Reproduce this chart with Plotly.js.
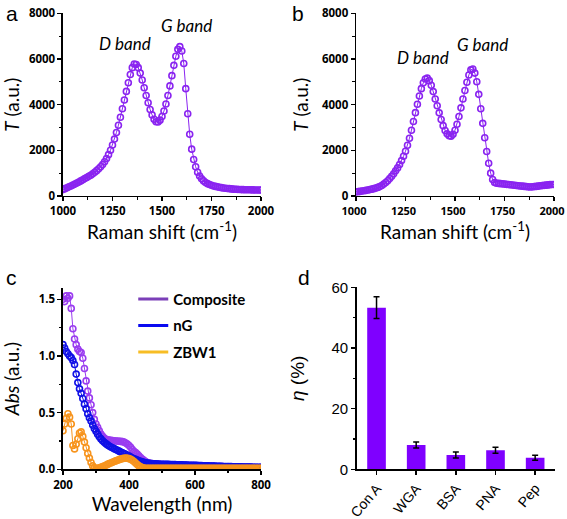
<!DOCTYPE html>
<html><head><meta charset="utf-8">
<script src="https://cdn.plot.ly/plotly-3.0.1.min.js"></script>
<style>html,body{margin:0;padding:0;background:#fff;overflow:hidden}#chart{width:567px;height:519px}</style>
</head><body><div id="chart"></div>
<script>
// ---- Panel a / b: Raman spectra ----
const ramanShift = [
1000,1010,1020,1030,1040,1050,1060,1070,1080,1090,
1100,1110,1120,1130,1140,1150,1160,1170,1180,1190,
1200,1210,1220,1230,1240,1250,1260,1270,1280,1290,
1300,1310,1320,1330,1340,1350,1360,1370,1380,1390,
1400,1410,1420,1430,1440,1450,1460,1470,1480,1490,
1500,1510,1520,1530,1540,1550,1560,1570,1580,1590,
1600,1610,1620,1630,1640,1650,1660,1670,1680,1690,
1700,1710,1720,1730,1740,1750,1760,1770,1780,1790,
1800,1810,1820,1830,1840,1850,1860,1870,1880,1890,
1900,1910,1920,1930,1940,1950,1960,1970,1980,1990,
2000];
const ramanA = [
280,320,360,400,440,480,520,570,610,660,
710,760,810,860,910,970,1040,1110,1190,1280,
1380,1500,1640,1810,2000,2230,2490,2780,3100,3450,
3820,4200,4580,4960,5320,5620,5780,5760,5620,5380,
5080,4740,4400,4080,3790,3550,3360,3250,3240,3320,
3480,3720,4030,4400,4820,5270,5720,6120,6420,6540,
6350,5800,4700,3600,2700,2050,1600,1280,1040,870,
750,660,590,540,500,470,440,420,400,380,
365,350,340,330,320,310,300,295,290,285,
280,278,275,272,270,268,266,265,264,263,
262];
const ramanB = [
180,190,200,215,230,245,260,280,300,320,
345,375,410,460,520,590,670,760,860,970,
1100,1230,1380,1550,1740,1960,2220,2530,2880,3260,
3650,4020,4380,4700,4960,5120,5160,5050,4850,4570,
4250,3950,3640,3350,3080,2870,2720,2640,2620,2700,
2880,3140,3480,3860,4250,4620,4980,5300,5520,5560,
5380,5000,4450,3820,3180,2550,1950,1430,1000,720,
590,560,550,540,530,520,510,500,490,480,
470,460,450,440,430,420,410,400,395,400,
410,420,430,445,455,465,475,485,495,500,
505];
const ramanTicks = [1000,1250,1500,1750,2000];

// ---- Panel c: absorption spectra ----
const wavelength = [
200,205,210,215,220,225,230,235,240,245,
250,255,260,265,270,275,280,285,290,295,
300,305,310,315,320,325,330,335,340,345,
350,355,360,365,370,375,380,385,390,395,
400,405,410,415,420,425,430,435,440,445,
450,455,460,465,470,475,480,485,490,495,
500,505,510,515,520,525,530,535,540,545,
550,555,560,565,570,575,580,585,590,595,
600,605,610,615,620,625,630,635,640,645,
650,655,660,665,670,675,680,685,690,695,
700,705,710,715,720,725,730,735,740,745,
750,755,760,765,770,775,780,785,790,795,
800];
const absComposite = [
1.50,1.48,1.53,1.51,1.53,1.42,1.24,1.15,1.10,1.06,
1.04,1.03,0.98,0.89,0.78,0.69,0.63,0.57,0.50,0.44,
0.40,0.37,0.34,0.31,0.29,0.275,0.265,0.26,0.258,0.256,
0.254,0.252,0.25,0.249,0.248,0.246,0.244,0.24,0.232,0.222,
0.21,0.195,0.175,0.158,0.147,0.135,0.118,0.103,0.09,0.079,
0.068,0.06,0.055,0.052,0.049,0.047,0.045,0.044,0.043,0.042,
0.041,0.041,0.040,0.040,0.039,0.039,0.038,0.038,0.037,0.037,
0.036,0.036,0.035,0.035,0.034,0.034,0.033,0.033,0.032,0.032,
0.031,0.031,0.030,0.030,0.029,0.029,0.028,0.028,0.027,0.027,
0.026,0.026,0.025,0.025,0.024,0.024,0.023,0.023,0.022,0.022,
0.021,0.021,0.021,0.020,0.020,0.020,0.019,0.019,0.019,0.018,
0.018,0.018,0.017,0.017,0.017,0.016,0.016,0.016,0.016,0.015,
0.015];
const absNG = [
1.10,1.07,1.04,1.02,1.00,0.985,0.96,0.925,0.84,0.765,
0.71,0.67,0.625,0.575,0.535,0.49,0.455,0.425,0.39,0.36,
0.335,0.31,0.287,0.268,0.252,0.238,0.226,0.215,0.205,0.197,
0.19,0.182,0.175,0.167,0.16,0.153,0.146,0.139,0.132,0.124,
0.116,0.108,0.1,0.093,0.087,0.081,0.075,0.07,0.065,0.061,
0.058,0.055,0.053,0.051,0.05,0.049,0.048,0.047,0.046,0.045,
0.045,0.044,0.044,0.043,0.043,0.042,0.042,0.041,0.041,0.040,
0.040,0.039,0.039,0.038,0.037,0.037,0.036,0.036,0.035,0.035,
0.034,0.034,0.033,0.033,0.032,0.031,0.031,0.030,0.030,0.029,
0.029,0.028,0.028,0.027,0.027,0.026,0.026,0.025,0.025,0.024,
0.024,0.023,0.023,0.022,0.022,0.022,0.021,0.021,0.021,0.020,
0.020,0.020,0.019,0.019,0.019,0.018,0.018,0.018,0.018,0.017,
0.017];
const absZBW1 = [
0.34,0.40,0.45,0.49,0.46,0.40,0.21,0.18,0.22,0.27,
0.32,0.33,0.29,0.24,0.19,0.14,0.10,0.06,0.03,0.012,
0.006,0.008,0.012,0.017,0.023,0.029,0.036,0.043,0.05,0.056,
0.062,0.068,0.074,0.08,0.085,0.09,0.094,0.097,0.098,0.097,
0.094,0.088,0.079,0.068,0.055,0.042,0.03,0.021,0.015,0.011,
0.009,0.008,0.008,0.008,0.008,0.008,0.008,0.008,0.008,0.008,
0.008,0.008,0.008,0.008,0.008,0.008,0.008,0.008,0.008,0.008,
0.008,0.008,0.008,0.008,0.008,0.008,0.008,0.008,0.008,0.008,
0.008,0.008,0.008,0.008,0.008,0.008,0.008,0.008,0.008,0.008,
0.008,0.008,0.008,0.008,0.008,0.008,0.008,0.008,0.008,0.008,
0.008,0.008,0.008,0.008,0.008,0.008,0.008,0.008,0.008,0.008,
0.008,0.008,0.008,0.008,0.008,0.008,0.008,0.008,0.008,0.008,
0.008];
const seriesNames = ["Composite","nG","ZBW1"];

// ---- Panel d: bar chart ----
const proteins = ["Con A","WGA","BSA","PNA","Pep"];
const eta = [53.3, 8.0, 4.7, 6.3, 3.8];
const etaErr = [3.6, 1.0, 1.0, 1.0, 0.8];

const purple = '#8a24f0';
const cPurple = '#9a3cf0', cBlue = '#1010e6', cOrange = '#f7941d';
const tickF = {family:'"Open Sans", sans-serif', size:11.5, color:'#000', weight:'bold'};
const tickF2 = {family:'"Open Sans", sans-serif', size:11, color:'#000', weight:'bold'};
const titleF = {family:'Lato, sans-serif', size:19, color:'#000'};
const arialF = 'Liberation Sans, Arial, sans-serif';
const bandF = {family:'Lato, sans-serif', size:17, color:'#000'};

function marker(c){return {symbol:'circle-open', size:6, color:c, line:{width:1.6, color:c}};}

const traces = [
 {x:ramanShift, y:ramanA, xaxis:'x', yaxis:'y', mode:'lines+markers', line:{color:purple,width:1}, marker:marker(purple), showlegend:false},
 {x:ramanShift, y:ramanB, xaxis:'x2', yaxis:'y2', mode:'lines+markers', line:{color:purple,width:1}, marker:marker(purple), showlegend:false},
 {x:wavelength, y:absComposite, xaxis:'x3', yaxis:'y3', mode:'lines+markers', line:{color:cPurple,width:1}, marker:marker(cPurple), showlegend:false},
 {x:wavelength, y:absNG, xaxis:'x3', yaxis:'y3', mode:'lines+markers', line:{color:cBlue,width:1}, marker:marker(cBlue), showlegend:false},
 {x:wavelength, y:absZBW1, xaxis:'x3', yaxis:'y3', mode:'lines+markers', line:{color:cOrange,width:1}, marker:marker(cOrange), showlegend:false},
 // legend entries (line only)
 {x:[null], y:[null], xaxis:'x3', yaxis:'y3', mode:'lines', name:seriesNames[0], legendgroup:'g1', line:{color:'#7b3fb8',width:3}},
 {x:[null], y:[null], xaxis:'x3', yaxis:'y3', mode:'lines', name:seriesNames[1], legendgroup:'g2', line:{color:'#0a0af0',width:3}},
 {x:[null], y:[null], xaxis:'x3', yaxis:'y3', mode:'lines', name:seriesNames[2], legendgroup:'g3', line:{color:'#f7bd25',width:3}},
 {x:proteins, y:eta, xaxis:'x4', yaxis:'y4', type:'bar', width:0.47, marker:{color:'#7f00ff', line:{width:0}},
  error_y:{type:'data', array:etaErr, visible:true, color:'#000', thickness:1.5, width:3}, showlegend:false}
];

function ax(extra){
  return Object.assign({showline:true, linecolor:'#000', linewidth:1.5, ticks:'outside', ticklen:4, tickwidth:1.5, tickcolor:'#000',
    showgrid:false, zeroline:false, tickfont:tickF, fixedrange:true, ticklabeloverflow:'allow'}, extra);
}
const minorX = {ticks:'outside', ticklen:2.5, tickwidth:1.2, tickcolor:'#000', showgrid:false};

const layout = {
  width:567, height:519, margin:{l:0,r:0,t:0,b:0}, paper_bgcolor:'#fff', plot_bgcolor:'#fff',
  xaxis: ax({domain:[0.1111,0.4603], range:[1000,2000], tickvals:ramanTicks, anchor:'y',
    minor:Object.assign({dtick:125, tick0:1000}, minorX), title:{text:'Raman shift (cm<sup>-1</sup>)', font:titleF, standoff:4}}),
  yaxis: ax({domain:[0.6224,0.9744], range:[0,8000], dtick:2000, anchor:'x',
    minor:Object.assign({dtick:1000}, minorX), title:{text:'<i>T</i> (a.u.)', font:titleF, standoff:8}}),
  xaxis2: ax({domain:[0.6279,0.9771], range:[1000,2000], tickvals:ramanTicks, anchor:'y2', ticklabelshift:-2,
    tickfont:tickF2,
    minor:Object.assign({dtick:125, tick0:1000}, minorX), title:{text:'Raman shift (cm<sup>-1</sup>)', font:titleF, standoff:4}}),
  yaxis2: ax({domain:[0.6224,0.9744], range:[0,8000], dtick:2000, anchor:'x2',
    minor:Object.assign({dtick:1000}, minorX), title:{text:'<i>T</i> (a.u.)', font:titleF, standoff:8}}),
  xaxis3: ax({domain:[0.1111,0.4603], range:[200,800], dtick:200, anchor:'y3',
    minor:Object.assign({dtick:100, tick0:200}, minorX), title:{text:'Wavelength (nm)', font:titleF, standoff:4}}),
  yaxis3: ax({domain:[0.0958,0.4451], range:[0,1.6], tickvals:[0,0.5,1,1.5], tickformat:'.1f', anchor:'x3',
    minor:Object.assign({tickvals:[0.25,0.75,1.25]}, minorX), title:{text:'<i>Abs</i> (a.u.)', font:titleF, standoff:14}}),
  xaxis4: ax({domain:[0.6291,0.9788], range:[-0.5,4.5], anchor:'y4', tickangle:-50,
    tickfont:{family:arialF, size:14, color:'#000'}}),
  yaxis4: ax({domain:[0.0958,0.4464], range:[0,60], dtick:20, anchor:'x4',
    tickfont:{family:arialF, size:15, color:'#000'},
    minor:Object.assign({dtick:10}, minorX), title:{text:'<i>η</i> (%)', font:{family:arialF, size:19, color:'#000'}, standoff:22}}),
  legend:{x:0.235, y:0.455, xanchor:'left', yanchor:'top', bgcolor:'rgba(0,0,0,0)', tracegroupgap:4,
    font:{family:'Lato, sans-serif', size:15, color:'#000', weight:'bold'}},
  annotations:[
    {xref:'x', yref:'y', x:1313, y:6690, text:'<i>D band</i>', showarrow:false, font:bandF},
    {xref:'x', yref:'y', x:1626, y:7477, text:'<i>G band</i>', showarrow:false, font:bandF},
    {xref:'x2', yref:'y2', x:1338, y:6080, text:'<i>D band</i>', showarrow:false, font:bandF},
    {xref:'x2', yref:'y2', x:1641, y:6650, text:'<i>G band</i>', showarrow:false, font:bandF},
    {xref:'paper', yref:'paper', x:0.007, y:1.0, xanchor:'left', yanchor:'top', text:'a', showarrow:false, font:{family:arialF, size:21, color:'#000'}},
    {xref:'paper', yref:'paper', x:0.512, y:1.0, xanchor:'left', yanchor:'top', text:'b', showarrow:false, font:{family:arialF, size:21, color:'#000'}},
    {xref:'paper', yref:'paper', x:0.007, y:0.492, xanchor:'left', yanchor:'top', text:'c', showarrow:false, font:{family:arialF, size:21, color:'#000'}},
    {xref:'paper', yref:'paper', x:0.522, y:0.492, xanchor:'left', yanchor:'top', text:'d', showarrow:false, font:{family:arialF, size:21, color:'#000'}}
  ]
};
Plotly.newPlot('chart', traces, layout, {staticPlot:true, displayModeBar:false});
</script></body></html>
